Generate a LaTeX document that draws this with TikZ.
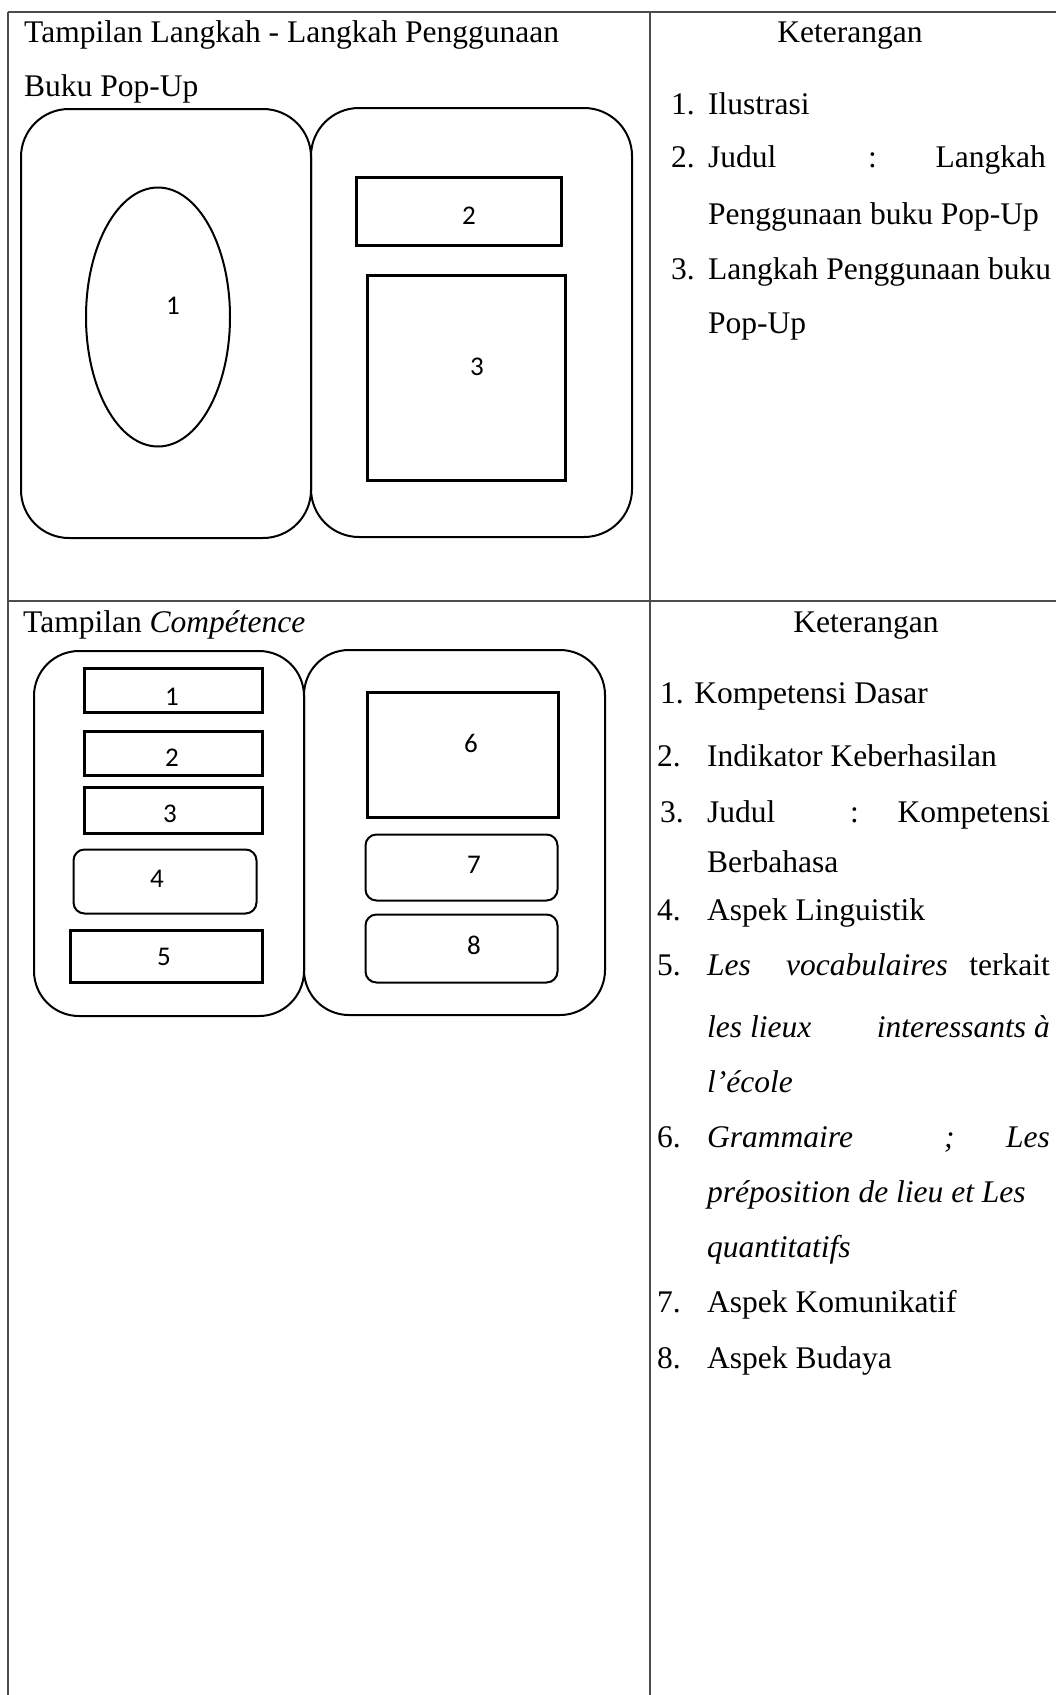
\documentclass[tikz,border=0pt]{standalone}
\usepackage{fontspec}
\setmainfont{Liberation Serif}
\newfontfamily\numfont{Carlito}
\usetikzlibrary{shapes.geometric}
\begin{document}
\begin{tikzpicture}[x=1pt,y=-1pt,
  txt/.style={anchor=base west,inner sep=0pt,font=\fontsize{31.5}{37}\selectfont},
  txtr/.style={txt,anchor=base east},
  txtc/.style={txt,anchor=base},
  num/.style={inner sep=0pt,font=\numfont\fontsize{27}{30}\selectfont},
  gridline/.style={draw=black!70,line width=1.3pt},
  pagebox/.style={draw,line width=2pt,rounded corners=48pt,rectangle,inner sep=0pt},
  pagebox2/.style={pagebox,rounded corners=45pt},
  boldbox/.style={draw,line width=3pt,rectangle,inner sep=0pt},
  softbox/.style={draw,line width=2pt,rectangle,rounded corners=11pt,inner sep=0pt},
  ovalbox/.style={draw,line width=2pt,ellipse,inner sep=0pt}
]
\useasboundingbox (0,0) rectangle (1056,1695);
\fill[white] (0,0) rectangle (1056,1695);

% table grid
\coordinate (tl) at (8,12);
\coordinate (tr) at (1056,12);
\coordinate (bl) at (8,1695);
\coordinate (mt) at (650,12);
\coordinate (mb) at (650,1695);
\coordinate (rl) at (8,601);
\coordinate (rr) at (1056,601);
\draw[gridline] (tl) -- (tr);
\draw[gridline] (tl) -- (bl);
\draw[gridline] (mt) -- (mb);
\draw[gridline] (rl) -- (rr);

% ---- top left cell
\node[txt] (t1a) at (24,42) {Tampilan Langkah - Langkah Penggunaan};
\node[txt] (t1b) at (24,96) {Buku Pop-Up};
\node[pagebox,minimum width=290pt,minimum height=429pt] (pgA) at (166,323.5) {};
\node[pagebox,minimum width=321pt,minimum height=429pt] (pgB) at (471.5,322.5) {};
\node[ovalbox,minimum width=144pt,minimum height=259pt] (ov1) at (158,317) {};
\node[num] (n1) at (173,306) {1};
\node[boldbox,minimum width=205pt,minimum height=68pt] (bx2) at (458.5,211) {};
\node[num] (n2) at (469,216) {2};
\node[boldbox,minimum width=198pt,minimum height=205pt] (bx3) at (466,377.5) {};
\node[num] (n3) at (477,367) {3};

% ---- top right cell
\node[txtc] (k1) at (850,42) {Keterangan};
\node[txt] (a1n) at (671,114) {1.};
\node[txt] (a1t) at (708,114) {Ilustrasi};
\node[txt] (a2n) at (671,167) {2.};
\node[txt] (a2t) at (708,167) {Judul};
\node[txt] (a2c) at (868,167) {:};
\node[txtr] (a2r) at (1046,167) {Langkah};
\node[txt] (a2b) at (708,224) {Penggunaan buku Pop-Up};
\node[txt] (a3n) at (671,279) {3.};
\node[txt] (a3t) at (708,279) {Langkah Penggunaan buku};
\node[txt] (a3b) at (708,333) {Pop-Up};

% ---- bottom left cell
\node[txt] (t2) at (23,632) {Tampilan \textit{Compétence}};
\node[pagebox2,minimum width=270pt,minimum height=365pt] (pgC) at (169,833.5) {};
\node[pagebox2,minimum width=301pt,minimum height=365pt] (pgD) at (454.5,832.5) {};
\node[boldbox,minimum width=178pt,minimum height=44pt] (c1) at (173,690) {};
\node[num] (m1) at (172,697) {1};
\node[boldbox,minimum width=178pt,minimum height=44pt] (c2) at (173,753) {};
\node[num] (m2) at (172,758) {2};
\node[boldbox,minimum width=178pt,minimum height=46pt] (c3) at (173,810) {};
\node[num] (m3) at (170,814) {3};
\node[softbox,minimum width=183pt,minimum height=64pt] (c4) at (165,881.5) {};
\node[num] (m4) at (157,879) {4};
\node[boldbox,minimum width=192pt,minimum height=52pt] (c5) at (166,956) {};
\node[num] (m5) at (164,957) {5};
\node[boldbox,minimum width=191pt,minimum height=125pt] (c6) at (462.5,754.5) {};
\node[num] (m6) at (471,743) {6};
\node[softbox,minimum width=192pt,minimum height=66pt] (c7) at (461.5,867.5) {};
\node[num] (m7) at (474,865) {7};
\node[softbox,minimum width=192pt,minimum height=68pt] (c8) at (461.5,948.5) {};
\node[num] (m8) at (474,945) {8};

% ---- bottom right cell
\node[txtc] (k2) at (866,632) {Keterangan};
\node[txt] (b1) at (660,703) {1. Kompetensi Dasar};
\node[txt] (b2n) at (657,766) {2.};
\node[txt] (b2t) at (707,766) {Indikator Keberhasilan};
\node[txt] (b3n) at (660,822) {3.};
\node[txt] (b3t) at (707,822) {Judul};
\node[txt] (b3c) at (850,822) {:};
\node[txtr] (b3r) at (1050,822) {Kompetensi};
\node[txt] (b3b) at (707,872) {Berbahasa};
\node[txt] (b4n) at (657,920) {4.};
\node[txt] (b4t) at (707,920) {Aspek Linguistik};
\node[txt] (b5n) at (657,975) {5.};
\node[txt] (b5a) at (707,975) {\textit{Les}};
\node[txt] (b5b) at (786,975) {\textit{vocabulaires}};
\node[txtr] (b5c) at (1050,975) {terkait};
\node[txt] (b5d) at (707,1037) {\textit{les lieux}};
\node[txtr] (b5e) at (1050,1037) {\textit{interessants à}};
\node[txt] (b5f) at (707,1092) {\textit{l’école}};
\node[txt] (b6n) at (657,1147) {6.};
\node[txt] (b6a) at (707,1147) {\textit{Grammaire}};
\node[txt] (b6b) at (944,1147) {\textit{;}};
\node[txtr] (b6c) at (1050,1147) {\textit{Les}};
\node[txt] (b6d) at (707,1202) {\textit{préposition de lieu et Les}};
\node[txt] (b6e) at (707,1257) {\textit{quantitatifs}};
\node[txt] (b7n) at (657,1312) {7.};
\node[txt] (b7t) at (707,1312) {Aspek Komunikatif};
\node[txt] (b8n) at (657,1368) {8.};
\node[txt] (b8t) at (707,1368) {Aspek Budaya};
\end{tikzpicture}
\end{document}
